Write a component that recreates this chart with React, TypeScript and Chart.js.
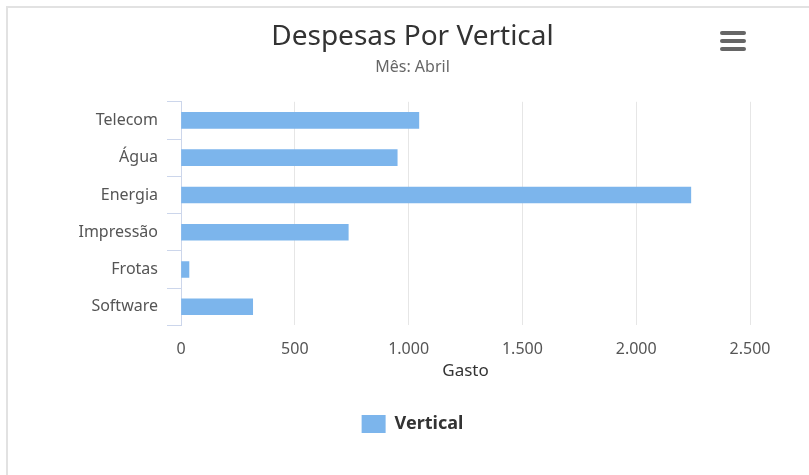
import React, { useEffect, useRef } from "react";
import { Chart, registerables } from "chart.js";

Chart.register(...registerables);

const categories = ["Telecom", "Água", "Energia", "Impressão", "Frotas", "Software"];
const seriesName = "Vertical";
const values = [1045, 950, 2240, 735, 35, 315];
const xTicks = [0, 500, 1000, 1500, 2000, 2500];
const titleText = "Despesas Por Vertical";
const subtitleText = "Mês: Abril";
const xTitle = "Gasto";

const FONT = "'Noto Sans', 'DejaVu Sans', sans-serif";

function fmt(v: number): string {
  return String(v).replace(/\B(?=(\d{3})+(?!\d))/g, ".");
}

export default function App() {
  const ref = useRef<HTMLCanvasElement | null>(null);

  useEffect(() => {
    document.body.style.margin = "0";
    document.body.style.overflow = "hidden";
    const canvas = ref.current;
    if (!canvas) return;
    const chart = new Chart(canvas, {
      type: "bar",
      data: {
        labels: categories,
        datasets: [
          {
            label: seriesName,
            data: values,
            backgroundColor: "#7cb5ec",
            borderWidth: 0,
            barThickness: 16,
          },
        ],
      },
      options: {
        indexAxis: "y",
        animation: false,
        responsive: false,
        maintainAspectRatio: false,
        layout: { padding: { left: 68, right: 72, top: 0, bottom: 32 } },
        plugins: {
          title: {
            display: true,
            text: titleText,
            color: "#333333",
            font: { family: FONT, size: 28, weight: "normal", lineHeight: 1.2 },
            padding: { top: 20, bottom: 0 },
          },
          subtitle: {
            display: true,
            text: subtitleText,
            color: "#666666",
            font: { family: FONT, size: 16, weight: "normal", lineHeight: 1.2 },
            padding: { top: 4, bottom: 25 },
          },
          legend: {
            display: true,
            position: "bottom",
            labels: {
              boxWidth: 24,
              boxHeight: 18,
              padding: 34,
              color: "#333333",
              font: { family: FONT, size: 18, weight: "bold" },
            },
          },
          tooltip: { enabled: false },
        },
        scales: {
          x: {
            type: "linear",
            min: 0,
            max: 2500,
            afterBuildTicks: (scale: any) => {
              scale.ticks = xTicks.map((v) => ({ value: v }));
            },
            ticks: {
              color: "#555555",
              padding: 2,
              font: { family: FONT, size: 16 },
              callback: (v: any) => fmt(Number(v)),
            },
            grid: {
              color: "#e6e6e6",
              drawTicks: true,
              tickLength: 12,
              tickColor: "rgba(0,0,0,0)",
            },
            border: { display: false },
            title: {
              display: true,
              text: xTitle,
              color: "#333333",
              font: { family: FONT, size: 17 },
              padding: { top: 0, bottom: 0 },
            },
          },
          y: {
            type: "category",
            offset: true,
            afterFit: (scale: any) => {
              scale.width = 106;
            },
            ticks: {
              color: "#555555",
              padding: 9,
              font: { family: FONT, size: 16 },
            },
            grid: {
              offset: true,
              drawOnChartArea: false,
              drawTicks: true,
              tickLength: 14,
              color: "#ccd6eb",
              tickColor: "#ccd6eb",
            },
            border: { display: true, color: "#ccd6eb", width: 1 },
          },
        },
      },
    });
    return () => chart.destroy();
  }, []);

  const bar: React.CSSProperties = {
    position: "absolute",
    left: 720,
    width: 26,
    height: 4,
    borderRadius: 2,
    background: "#666666",
  };

  return (
    <div style={{ position: "relative", width: 809, height: 475, overflow: "hidden", background: "#fff" }}>
      <div
        style={{
          position: "absolute",
          left: 6,
          top: 6,
          width: 820,
          height: 480,
          borderTop: "2px solid #e2e2e2",
          borderLeft: "2px solid #e2e2e2",
          boxSizing: "border-box",
        }}
      />
      <canvas
        ref={ref}
        width={815}
        height={475}
        style={{ position: "absolute", left: 7, top: 0, width: 815, height: 475 }}
      />
      <div style={{ ...bar, top: 31 }} />
      <div style={{ ...bar, top: 39 }} />
      <div style={{ ...bar, top: 47 }} />
    </div>
  );
}
